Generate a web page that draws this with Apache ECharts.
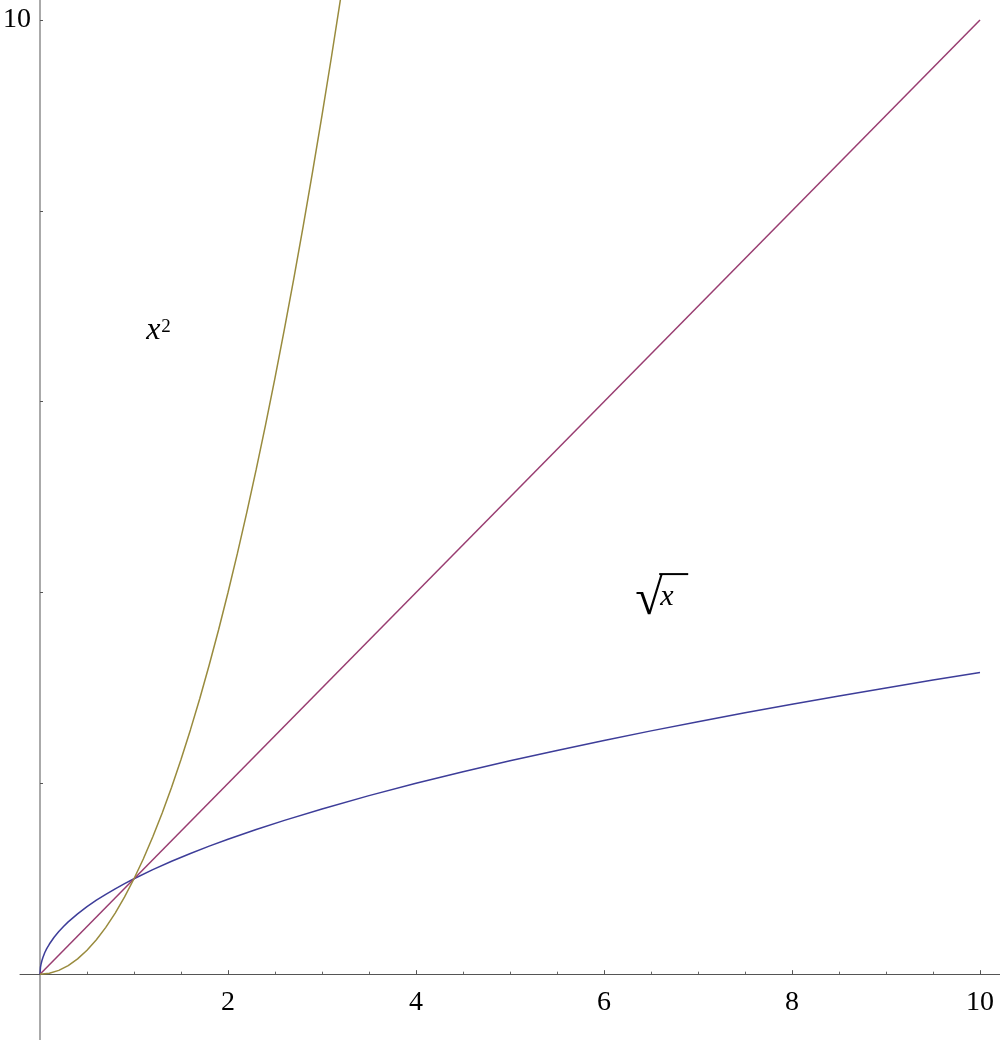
<!DOCTYPE html>
<html><head><meta charset="utf-8">
<script src="https://cdn.jsdelivr.net/npm/echarts@6/dist/echarts.min.js"></script>
<style>html,body{margin:0;padding:0;background:#fff}#c{width:1000px;height:1040px}</style>
</head><body><div id="c"></div>
<script>
// Values
const sqrtX = [0, 0.005, 0.01, 0.02, 0.03, 0.05, 0.07, 0.1, 0.15, 0.2, 0.25, 0.3, 0.4, 0.5, 0.6, 0.7, 0.8, 0.9, 1, 1.2, 1.4, 1.6, 1.8, 2, 2.3, 2.6, 3, 3.5, 4, 4.5, 5, 5.5, 6, 6.5, 7, 7.5, 8, 8.5, 9, 9.5, 10];
const sqrtY = [0, 0.071, 0.1, 0.141, 0.173, 0.224, 0.265, 0.316, 0.387, 0.447, 0.5, 0.548, 0.632, 0.707, 0.775, 0.837, 0.894, 0.949, 1, 1.095, 1.183, 1.265, 1.342, 1.414, 1.517, 1.612, 1.732, 1.871, 2, 2.121, 2.236, 2.345, 2.449, 2.55, 2.646, 2.739, 2.828, 2.915, 3, 3.082, 3.162];
const idX = [0, 10];
const idY = [0, 10];
const sqX = [0, 0.1, 0.2, 0.3, 0.4, 0.5, 0.6, 0.7, 0.8, 0.9, 1, 1.1, 1.2, 1.3, 1.4, 1.5, 1.6, 1.7, 1.8, 1.9, 2, 2.1, 2.2, 2.3, 2.4, 2.5, 2.6, 2.7, 2.8, 2.9, 3, 3.1, 3.2, 3.3];
const sqY = [0, 0.01, 0.04, 0.09, 0.16, 0.25, 0.36, 0.49, 0.64, 0.81, 1, 1.21, 1.44, 1.69, 1.96, 2.25, 2.56, 2.89, 3.24, 3.61, 4, 4.41, 4.84, 5.29, 5.76, 6.25, 6.76, 7.29, 7.84, 8.41, 9, 9.61, 10.24, 10.89];
const xMajorTicks = [2, 4, 6, 8, 10];
const xMinorTicks = [0.5, 1, 1.5, 2.5, 3, 3.5, 4.5, 5, 5.5, 6.5, 7, 7.5, 8.5, 9, 9.5];
const yTicks = [2, 4, 6, 8, 10];
const yLabels = [10];
const labelSq = [1.13, 6.65];   // anchor (data coords) of the x^2 label
const labelSqrt = [6.3, 3.8];   // anchor (data coords) of the sqrt(x) label

const FONT = '"Liberation Serif", "DejaVu Serif", serif';
const zip = (a, b) => a.map((v, i) => [v, b[i]]);
const W = 1000, H = 1040, GRID_LEFT = 20;
const X_MIN = -0.2128, X_MAX = 10.2128, Y_MIN = -0.69, Y_MAX = 10.21;
// place axes through the origin (as offsets from the grid edges)
const xZeroOffset = -(0 - Y_MIN) / (Y_MAX - Y_MIN) * H;
const yZeroOffset = -(0 - X_MIN) / (X_MAX - X_MIN) * (W - GRID_LEFT);

const chart = echarts.init(document.getElementById('c'), null, {renderer: 'canvas'});
const option = {
  animation: false,
  backgroundColor: '#fff',
  grid: {left: GRID_LEFT, right: 0, top: 0, bottom: 0, containLabel: false, outerBoundsMode: 'none'},
  xAxis: [{
    type: 'value', min: X_MIN, max: X_MAX, position: 'bottom', offset: xZeroOffset,
    axisLine: {show: true, onZero: false, lineStyle: {color: '#555', width: 1}},
    axisTick: {show: true, inside: true, length: 4, customValues: xMajorTicks, lineStyle: {color: '#555', width: 1}},
    axisLabel: {show: true, customValues: xMajorTicks, fontFamily: FONT, fontSize: 28, color: '#000', margin: 14},
    splitLine: {show: false}
  }, {
    type: 'value', min: X_MIN, max: X_MAX, position: 'bottom', offset: xZeroOffset,
    axisLine: {show: false, onZero: false},
    axisTick: {show: true, inside: true, length: 2.5, customValues: xMinorTicks, lineStyle: {color: '#666', width: 1}},
    axisLabel: {show: false},
    splitLine: {show: false}
  }],
  yAxis: {
    type: 'value', min: Y_MIN, max: Y_MAX, position: 'left', offset: yZeroOffset,
    axisLine: {show: true, onZero: false, lineStyle: {color: '#aaa', width: 2}},
    axisTick: {show: true, inside: true, length: 3, customValues: yTicks, lineStyle: {color: '#555', width: 1}},
    axisLabel: {show: true, customValues: yLabels, fontFamily: FONT, fontSize: 28, color: '#000', margin: 9},
    splitLine: {show: false}
  },
  series: [
    {type: 'line', name: 'sqrt', data: zip(sqrtX, sqrtY), smooth: false, showSymbol: false,
     lineStyle: {color: '#3d3d99', width: 1.5}, clip: true},
    {type: 'line', name: 'x', data: zip(idX, idY), showSymbol: false,
     lineStyle: {color: '#993d71', width: 1.5}, clip: true},
    {type: 'line', name: 'x2', data: zip(sqX, sqY), smooth: false, showSymbol: false,
     lineStyle: {color: '#998b3d', width: 1.5}, clip: true}
  ]
};
chart.setOption(option);

const p1 = chart.convertToPixel({xAxisIndex: 0, yAxisIndex: 0}, labelSq);
const p2 = chart.convertToPixel({xAxisIndex: 0, yAxisIndex: 0}, labelSqrt);
chart.setOption({
  graphic: [
    {type: 'text', x: p1[0], y: p1[1] + 7, style: {text: 'x', font: 'italic 32px ' + FONT, fill: '#000', textVerticalAlign: 'bottom'}},
    {type: 'text', x: p1[0] + 15, y: p1[1] - 3, style: {text: '2', font: '19px ' + FONT, fill: '#000', textVerticalAlign: 'bottom'}},
    {type: 'text', x: p2[0] + 3, y: p2[1] + 14, style: {text: '\u221A', font: '50px ' + FONT, fill: '#000', textVerticalAlign: 'bottom'}},
    {type: 'line', shape: {x1: p2[0] + 27, y1: p2[1] - 37.5, x2: p2[0] + 56, y2: p2[1] - 37.5}, style: {stroke: '#000', lineWidth: 2}},
    {type: 'text', x: p2[0] + 28, y: p2[1] + 1, style: {text: 'x', font: 'italic 30px ' + FONT, fill: '#000', textVerticalAlign: 'bottom'}}
  ]
});
</script></body></html>
